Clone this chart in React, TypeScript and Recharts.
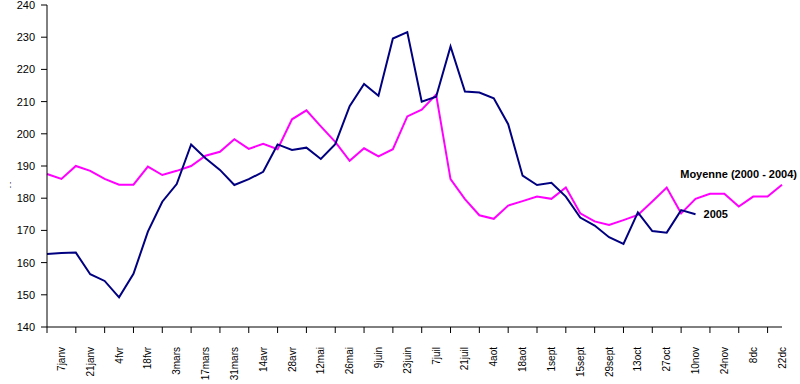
import { LineChart, Line, XAxis, YAxis, LabelList } from 'recharts'

// date labels, one every two weeks (accents lost in the source picture)
const dateLabels = [
  '7janv', '21janv', '4fvr', '18fvr', '3mars', '17mars', '31mars', '14avr', '28avr',
  '12mai', '26mai', '9juin', '23juin', '7juil', '21juil', '4aot', '18aot', '1sept',
  '15sept', '29sept', '13oct', '27oct', '10nov', '24nov', '8dc', '22dc',
]

// weekly values
const moyenne = [
  187.5, 186, 190, 188.5, 186, 184.2, 184.2, 189.8, 187.2, 188.5,
  190, 193.2, 194.4, 198.3, 195.3, 196.9, 195.2, 204.5, 207.3, 202.3,
  197.5, 191.6, 195.5, 193, 195.2, 205.4, 207.5, 212.2, 185.9, 179.7,
  174.7, 173.6, 177.7, 179.1, 180.5, 179.8, 183.3, 175.3, 172.8, 171.7,
  173.2, 174.8, 179, 183.3, 175.3, 179.8, 181.4, 181.4, 177.4, 180.5,
  180.5, 184.2,
]

const annee2005 = [
  162.7, 163, 163.1, 156.4, 154.3, 149.2, 156.5, 169.6, 178.9, 184.4,
  196.7, 192.4, 188.8, 184.1, 185.9, 188.2, 196.7, 195, 195.7, 192.2,
  196.8, 208.6, 215.5, 211.8, 229.6, 231.6, 210, 211.5, 227.1, 213.1,
  212.8, 211, 203, 187, 184.1, 184.8, 180.5, 174, 171.5, 167.9,
  165.8, 175.6, 169.8, 169.3, 176.3, 175,
]

const yTicks = [140, 150, 160, 170, 180, 190, 200, 210, 220, 230, 240]

const data = moyenne.map((v, k) => ({
  k,
  moyenne: v,
  y2005: k < annee2005.length ? annee2005[k] : null,
}))
const xTicks = moyenne.map((_, k) => k)

const FONT = 'Liberation Sans, Arial, sans-serif'

function DateTick({ x, y, payload }: any) {
  const k = payload.value
  if (k % 2 === 0) return <line x1={x} y1={y} x2={x} y2={y + 6} stroke="#000" />
  const label = dateLabels[(k - 1) / 2]
  const ty = y + 20
  return (
    <text
      x={x}
      y={ty}
      transform={`rotate(-90 ${x} ${ty})`}
      textAnchor="end"
      dy="0.35em"
      fontSize={10}
      fill="#000"
      fontFamily="Liberation Sans Narrow, Liberation Sans, Arial, sans-serif"
    >
      {label}
    </text>
  )
}

function MoyenneLabel({ x, y, index }: any) {
  if (index !== moyenne.length - 1) return null
  return (
    <text x={x + 15} y={y - 7} textAnchor="end" fontSize={11} fontWeight="bold" fill="#000" fontFamily={FONT}>
      Moyenne (2000 - 2004)
    </text>
  )
}

function Label2005({ x, y, index }: any) {
  if (index !== annee2005.length - 1) return null
  return (
    <text x={x + 8} y={y + 4} fontSize={11} fontWeight="bold" fill="#000" fontFamily={FONT}>
      2005
    </text>
  )
}

function AxisTitle({ viewBox }: any) {
  const cx = 12
  const cy = viewBox.y + viewBox.height / 2 + 19
  return (
    <text x={cx} y={cy} transform={`rotate(-90 ${cx} ${cy})`} textAnchor="middle" fontSize={7} fill="#000" fontFamily={FONT}>
      - -
    </text>
  )
}

export default function App() {
  return (
    <div style={{ width: 800, height: 384, background: '#fff', fontFamily: FONT }}>
      <style>{'body{margin:0}'}</style>
      <LineChart width={800} height={384} data={data} margin={{ top: 5, right: 18, left: 0, bottom: 0 }}>
        <XAxis
          dataKey="k"
          type="number"
          domain={[0, moyenne.length - 1]}
          ticks={xTicks}
          interval={0}
          tickSize={0}
          tickMargin={0}
          tickLine={false}
          tick={<DateTick />}
          stroke="#000"
          height={57}
        />
        <YAxis
          domain={[140, 240]}
          ticks={yTicks}
          interval={0}
          width={47}
          tickSize={6}
          tickMargin={6}
          stroke="#000"
          tick={{ fontSize: 11, fill: '#000', fontFamily: FONT }}
          label={<AxisTitle />}
        />
        <Line
          type="linear"
          dataKey="moyenne"
          stroke="#ff00ff"
          strokeWidth={2}
          dot={false}
          isAnimationActive={false}
        >
          <LabelList dataKey="moyenne" content={<MoyenneLabel />} />
        </Line>
        <Line
          type="linear"
          dataKey="y2005"
          stroke="#000080"
          strokeWidth={2}
          dot={false}
          isAnimationActive={false}
          connectNulls={false}
        >
          <LabelList dataKey="y2005" content={<Label2005 />} />
        </Line>
      </LineChart>
    </div>
  )
}
